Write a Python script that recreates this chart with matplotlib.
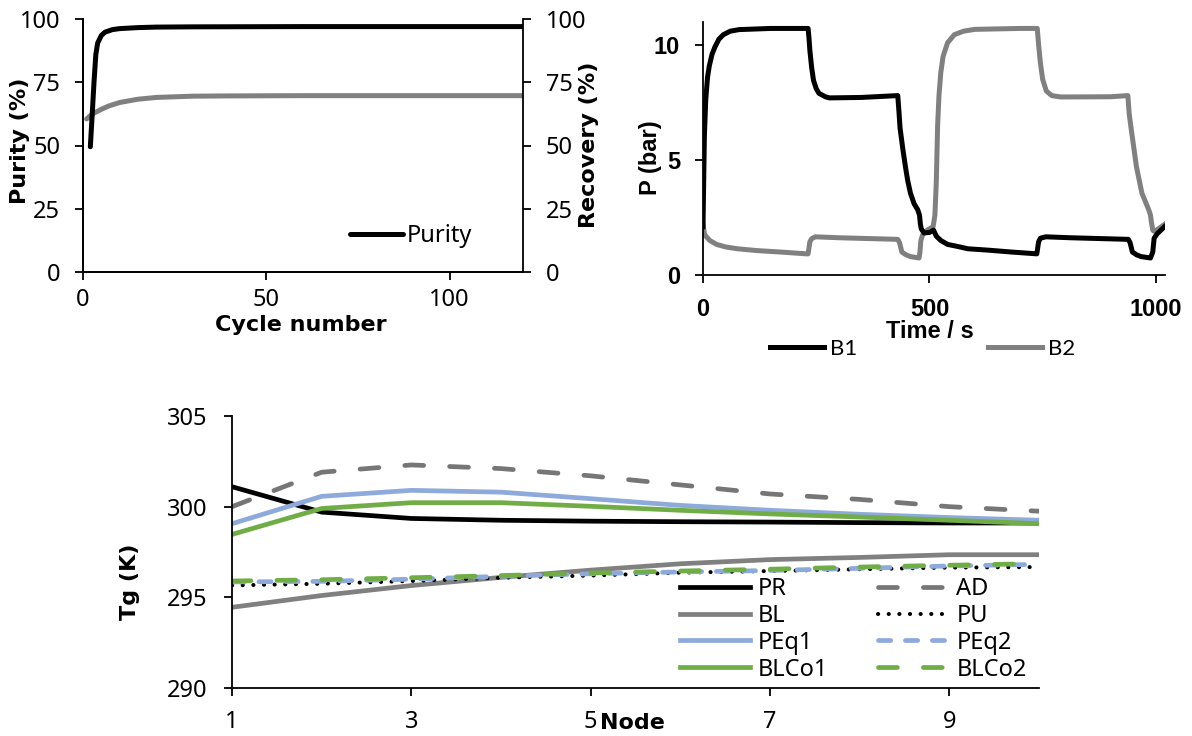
import matplotlib
matplotlib.use("Agg")
import matplotlib.pyplot as plt

W, H = 1192, 736

# ---- top left: purity / recovery vs cycle
purity_cycle = [2, 2.5, 3, 3.5, 4, 5, 6, 8, 10, 15, 20, 30, 60, 120]
purity = [49.5, 62, 75, 86, 90.5, 93.5, 94.8, 95.8, 96.2, 96.6, 96.8, 96.9, 97.0, 97.0]
recovery_cycle = [1, 2, 3, 5, 7, 10, 15, 20, 30, 40, 60, 120]
recovery = [60.5, 61.8, 62.8, 64.3, 65.6, 67.0, 68.3, 69.0, 69.5, 69.6, 69.7, 69.7]

# ---- top right: bed pressures
b1_t = [0, 3, 6, 10, 14, 20, 26, 35, 45, 60, 80, 150, 232, 234, 236, 240, 244, 250, 256, 270,
        279, 350, 430, 433, 435, 441, 447, 452, 458, 466, 474, 478, 480, 482, 488, 500, 509,
        515, 525, 540, 560, 585, 630, 680, 737, 741, 745, 757, 810, 939, 943, 948, 957, 967,
        988, 993, 996, 1003, 1019]
b1_p = [2.1, 6.0, 7.6, 8.6, 9.1, 9.6, 9.9, 10.25, 10.45, 10.6, 10.67, 10.72, 10.72, 10.3, 9.75,
        9.0, 8.46, 8.1, 7.9, 7.75, 7.7, 7.72, 7.8, 7.0, 6.4, 5.5, 4.7, 4.1, 3.56, 3.1, 2.84,
        2.6, 2.2, 2.0, 1.83, 1.85, 1.95, 1.69, 1.5, 1.33, 1.25, 1.14, 1.08, 1.0, 0.92, 1.45,
        1.6, 1.66, 1.62, 1.55, 1.4, 1.0, 0.88, 0.8, 0.74, 1.0, 1.6, 1.8, 2.1]
b2_t = [0, 3, 6, 15, 30, 50, 76, 120, 170, 228, 232, 236, 240, 248, 300, 430, 434, 439, 448,
        458, 477, 479, 481, 485, 495, 508, 512, 515, 518, 521, 525, 530, 540, 555, 575, 600,
        700, 738, 741, 745, 750, 758, 770, 790, 900, 938, 941, 945, 957, 969, 984, 988, 990,
        993, 996, 1005, 1019]
b2_p = [2.2, 1.8, 1.69, 1.5, 1.33, 1.22, 1.14, 1.06, 1.0, 0.92, 0.92, 1.45, 1.58, 1.66, 1.62,
        1.55, 1.4, 1.0, 0.88, 0.8, 0.74, 1.0, 1.5, 1.75, 1.95, 2.1, 2.6, 4.0, 6.5, 7.8, 8.8,
        9.5, 10.1, 10.45, 10.6, 10.68, 10.72, 10.72, 10.0, 9.2, 8.5, 8.0, 7.8, 7.74, 7.75,
        7.8, 7.0, 6.4, 4.7, 3.56, 2.84, 2.6, 2.3, 1.95, 1.9, 2.0, 2.2]

# ---- bottom: gas temperature along the bed
nodes = [1, 2, 3, 4, 5, 6, 7, 8, 9, 10]
tg_PR = [301.1, 299.7, 299.35, 299.25, 299.2, 299.17, 299.15, 299.12, 299.1, 299.1]
tg_AD = [300.0, 301.9, 302.3, 302.1, 301.7, 301.2, 300.7, 300.4, 300.0, 299.75]
tg_BL = [294.45, 295.1, 295.65, 296.1, 296.5, 296.85, 297.08, 297.2, 297.35, 297.35]
tg_PU = [295.66, 295.75, 295.9, 296.08, 296.2, 296.36, 296.45, 296.55, 296.64, 296.67]
tg_PEq1 = [299.06, 300.57, 300.9, 300.8, 300.44, 300.07, 299.8, 299.58, 299.4, 299.25]
tg_PEq2 = [295.85, 295.88, 296.0, 296.16, 296.3, 296.4, 296.48, 296.6, 296.73, 296.82]
tg_BLCo1 = [298.47, 299.9, 300.22, 300.22, 300.02, 299.8, 299.6, 299.43, 299.25, 299.06]
tg_BLCo2 = [295.9, 295.97, 296.08, 296.2, 296.34, 296.45, 296.55, 296.67, 296.77, 296.86]

BLUE = "#8eaadb"
GREEN = "#70ad47"
GRAY = "#808080"
DGRAY = "#767676"

plt.rcParams['font.family'] = ['Noto Sans', 'DejaVu Sans']
plt.rcParams['axes.linewidth'] = 1.3
plt.rcParams['xtick.major.width'] = 1.3
plt.rcParams['ytick.major.width'] = 1.3
plt.rcParams['xtick.major.size'] = 5.5
plt.rcParams['ytick.major.size'] = 5.5

FS = 17      # tick / legend size, left and bottom charts
LFS = 16     # bold axis titles
BOLD = dict(fontsize=LFS, fontweight='bold', family=['DejaVu Sans'])
RBOLD = dict(fontweight='bold', family=['Liberation Sans', 'DejaVu Sans'])
fig = plt.figure(figsize=(W / 100, H / 100), dpi=100)


def box(l, t, r, b):
    return [l / W, 1 - b / H, (r - l) / W, (b - t) / H]


# top left
ax1 = fig.add_axes(box(83, 19, 523, 272))
ax1.plot(recovery_cycle, recovery, color=GRAY, lw=3.6, solid_capstyle='round', zorder=2)
ax1.plot(purity_cycle, purity, color='black', lw=3.6, solid_capstyle='round', label='Purity', zorder=3)
ax1.set_xlim(0, 120)
ax1.set_ylim(0, 100)
ax1.set_xticks([0, 50, 100])
ax1.set_yticks([0, 25, 50, 75, 100])
ax1.tick_params(labelsize=FS)
ax1.tick_params(axis='y', pad=11)
ax1.tick_params(axis='x', pad=6)
ax1.spines['top'].set_visible(False)
ax1.spines['right'].set_visible(False)
ax1r = ax1.twinx()
ax1r.set_ylim(0, 100)
ax1r.set_yticks([0, 25, 50, 75, 100])
ax1r.tick_params(labelsize=FS, pad=11)
ax1r.spines['top'].set_visible(False)
fig.text(20 / W, 1 - 141 / H, "Purity (%)", rotation=90, ha='center', va='center', **BOLD)
fig.text(589 / W, 1 - 145 / H, "Recovery (%)", rotation=90, ha='center', va='center', **BOLD)
fig.text(301 / W, 1 - 325 / H, "Cycle number", ha='center', va='center', **BOLD)
ax1.legend(loc='center left', bbox_to_anchor=(350 / W, 1 - 236 / H),
           bbox_transform=fig.transFigure, frameon=False, fontsize=FS,
           handlelength=2.25, handletextpad=0.17, borderpad=0, borderaxespad=0)

# top right
ax2 = fig.add_axes(box(703, 22, 1165, 275))
ax2.plot(b1_t, b1_p, color='black', lw=3.6, label='B1', zorder=3)
ax2.plot(b2_t, b2_p, color=GRAY, lw=3.6, label='B2', zorder=2)
ax2.set_xlim(0, 1020)
ax2.set_ylim(0, 11)
ax2.set_xticks([0, 500, 1000])
ax2.set_yticks([0, 5, 10])
for s in ['top', 'right']:
    ax2.spines[s].set_visible(False)
ax2.tick_params(labelsize=17, pad=11)
for lab in ax2.get_xticklabels() + ax2.get_yticklabels():
    lab.set_family(['Liberation Sans', 'DejaVu Sans'])
    lab.set_fontweight('bold')
fig.text(650 / W, 1 - 158 / H, "P (bar)", rotation=90, ha='center', va='center',
         fontsize=17, **RBOLD)
fig.text(930 / W, 1 - 331 / H, "Time / s", ha='center', va='center',
         fontsize=17, **RBOLD)
ax2.legend(loc='center left', bbox_to_anchor=(770 / W, 1 - 349 / H),
           bbox_transform=fig.transFigure, frameon=False, ncol=2,
           prop={'family': 'Lato', 'size': 16},
           handlelength=2.43, handletextpad=0.27, columnspacing=5.9,
           borderpad=0, borderaxespad=0)

# bottom
ax3 = fig.add_axes(box(232, 416, 1039, 688))
lw = 3.4
l_pr, = ax3.plot(nodes, tg_PR, color='black', lw=lw, label='PR')
l_bl, = ax3.plot(nodes, tg_BL, color=GRAY, lw=lw, label='BL')
l_pe1, = ax3.plot(nodes, tg_PEq1, color=BLUE, lw=lw, label='PEq1')
l_bc1, = ax3.plot(nodes, tg_BLCo1, color=GREEN, lw=lw, label='BLCo1')
l_ad, = ax3.plot(nodes, tg_AD, color=DGRAY, lw=lw, label='AD', dashes=(4, 5.5),
                 dash_capstyle='round')
l_pu, = ax3.plot(nodes, tg_PU, color='black', lw=lw * 0.85, label='PU', dashes=(0.05, 2.6),
                 dash_capstyle='round')
l_pe2, = ax3.plot(nodes, tg_PEq2, color=BLUE, lw=lw, label='PEq2', dashes=(2.6, 3.1),
                  dash_capstyle='round')
l_bc2, = ax3.plot(nodes, tg_BLCo2, color=GREEN, lw=lw, label='BLCo2', dashes=(4, 5.5),
                  dash_capstyle='round')
ax3.set_xlim(1, 10)
ax3.set_ylim(290, 305)
ax3.set_xticks([1, 3, 5, 7, 9])
ax3.set_yticks([290, 295, 300, 305])
for s in ['top', 'right']:
    ax3.spines[s].set_visible(False)
ax3.tick_params(labelsize=FS)
ax3.tick_params(axis='y', pad=12)
ax3.tick_params(axis='x', pad=10)
fig.text(130 / W, 1 - 582 / H, "Tg (K)", rotation=90, ha='center', va='center', **BOLD)
fig.text(600 / W, 1 - 723 / H, "Node", ha='left', va='center', **BOLD)
ax3.legend(handles=[l_pr, l_bl, l_pe1, l_bc1, l_ad, l_pu, l_pe2, l_bc2],
           loc='upper left', bbox_to_anchor=(680 / W, 1 - 577 / H),
           bbox_transform=fig.transFigure, frameon=False, ncol=2, fontsize=FS,
           handlelength=2.97, handletextpad=0.34, columnspacing=2.1,
           labelspacing=0.12, borderpad=0, borderaxespad=0)

fig.savefig("out.png", dpi=100)
